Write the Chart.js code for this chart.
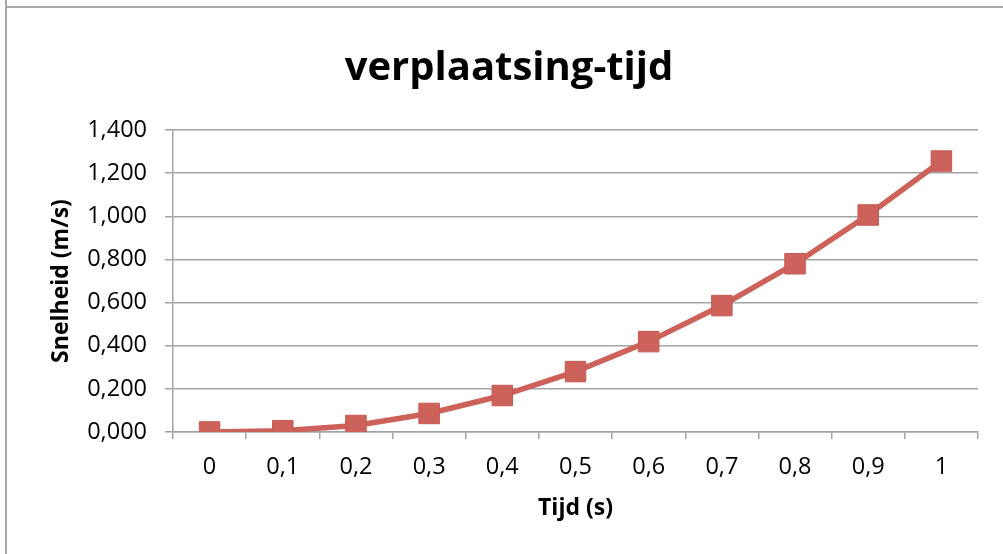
<!DOCTYPE html>
<html>
<head>
<meta charset="utf-8">
<script src="https://cdn.jsdelivr.net/npm/chart.js@4/dist/chart.umd.min.js"></script>
<style>
  html, body { margin: 0; padding: 0; background: #ffffff; }
  #wrap { position: relative; width: 1003px; height: 554px; }
</style>
</head>
<body>
<div id="wrap"><canvas id="c" width="1003" height="554"></canvas></div>
<script>
const categories = ["0", "0,1", "0,2", "0,3", "0,4", "0,5", "0,6", "0,7", "0,8", "0,9", "1"];
const snelheid = [0.000, 0.006, 0.030, 0.086, 0.169, 0.280, 0.419, 0.586, 0.780, 1.006, 1.256];
const chartTitle = "verplaatsing-tijd";
const xTitle = "Tijd (s)";
const yTitle = "Snelheid (m/s)";
const yMin = 0, yMax = 1.4, yStep = 0.2;

const FONT = "'Open Sans', Lato, sans-serif";
const GRID = "#a3a3a3";
const RED = "#cd625b";

const framePlugin = {
  id: 'frame',
  beforeDraw(chart) {
    const ctx = chart.ctx;
    ctx.save();
    ctx.fillStyle = "#ffffff";
    ctx.fillRect(0, 0, chart.width, chart.height);
    ctx.strokeStyle = "#a8a8a8";
    ctx.lineWidth = 2;
    ctx.beginPath();
    ctx.moveTo(6, 0); ctx.lineTo(6, chart.height);
    ctx.moveTo(6, 7); ctx.lineTo(chart.width, 7);
    ctx.stroke();
    ctx.restore();
  }
};

new Chart(document.getElementById('c'), {
  type: 'line',
  data: {
    labels: categories,
    datasets: [{
      data: snelheid,
      borderColor: RED,
      backgroundColor: RED,
      borderWidth: 5.5,
      pointStyle: 'rect',
      pointRadius: 14.5,
      pointHoverRadius: 14.5,
      pointBackgroundColor: RED,
      pointBorderColor: "#c65a53",
      pointBorderWidth: 1,
      tension: 0,
      fill: false
    }]
  },
  options: {
    responsive: false,
    animation: false,
    devicePixelRatio: 1,
    layout: { padding: { left: 40, right: 25, top: 0, bottom: 0 } },
    plugins: {
      legend: { display: false },
      tooltip: { enabled: false },
      title: {
        display: true,
        text: chartTitle,
        color: "#000000",
        font: { family: FONT, size: 40, weight: 'bold', lineHeight: 1.2 },
        padding: { top: 45, bottom: 37 }
      }
    },
    scales: {
      x: {
        type: 'category',
        offset: true,
        afterFit(scale) { scale.height = 122; },
        grid: {
          display: true,
          drawOnChartArea: false,
          drawTicks: true,
          tickLength: 7,
          offset: true,
          color: GRID,
          lineWidth: 1.5
        },
        border: { display: true, color: GRID, width: 1.5 },
        ticks: {
          color: "#000000",
          font: { family: FONT, size: 23.5 },
          padding: 14,
          maxRotation: 0,
          autoSkip: false
        },
        title: {
          display: true,
          text: xTitle,
          color: "#000000",
          font: { family: FONT, size: 23, weight: 'bold', lineHeight: 1.2 },
          padding: { top: 0, bottom: 32 }
        }
      },
      y: {
        min: yMin,
        max: yMax,
        afterFit(scale) { scale.width = 133; },
        grid: {
          color: GRID,
          lineWidth: 1.5,
          drawTicks: true,
          tickLength: 8
        },
        border: { display: true, color: GRID, width: 1.5 },
        ticks: {
          stepSize: yStep,
          color: "#000000",
          font: { family: FONT, size: 23.5 },
          padding: 18,
          callback: (v) => Number(v).toFixed(3).replace('.', ',')
        },
        title: {
          display: true,
          text: yTitle,
          color: "#000000",
          font: { family: FONT, size: 23, weight: 'bold', lineHeight: 1.2 },
          padding: { top: 8, bottom: 0 }
        }
      }
    }
  },
  plugins: [framePlugin]
});
</script>
</body>
</html>
